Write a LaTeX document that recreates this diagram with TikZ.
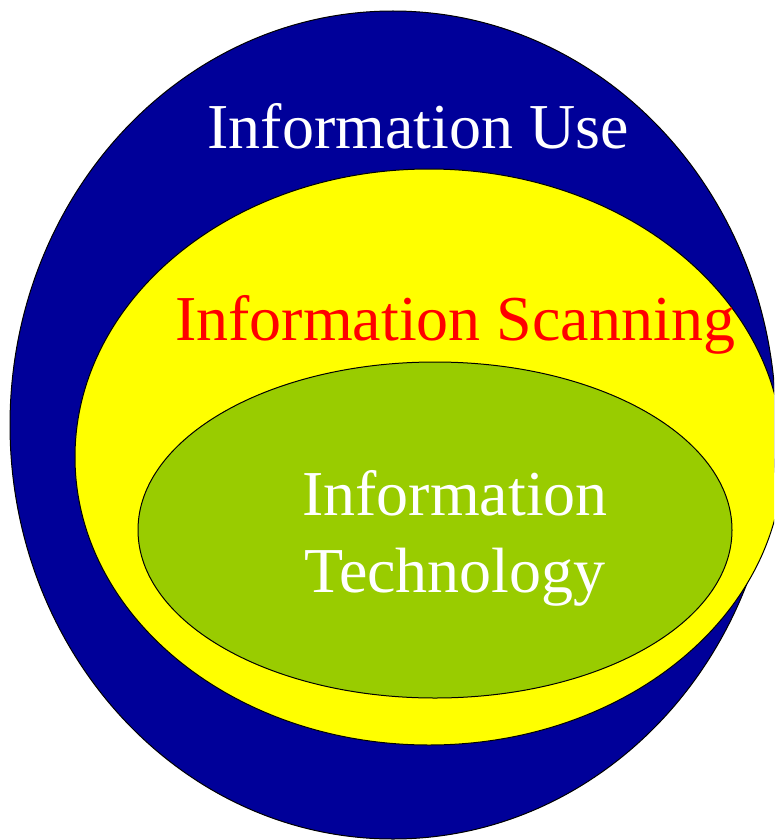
\documentclass[tikz,border=0pt]{standalone}
\usepackage{fontspec}
\setmainfont{Liberation Serif}
\definecolor{useblue}{RGB}{0,0,153}
\definecolor{scanyellow}{RGB}{255,255,0}
\definecolor{techgreen}{RGB}{153,204,0}
\tikzset{
	ring/.style={draw=black, line width=1pt},
	label/.style={font=\fontsize{64}{77}\selectfont, inner sep=0pt}
}

\begin{document}
\begin{tikzpicture}[x=1pt, y=-1pt]
	\useasboundingbox (0,0) rectangle (774,840);
	\clip (0,0) rectangle (774,840);
	\draw[ring, fill=useblue] (393,425) ellipse [x radius=383, y radius=414];
	\draw[ring, fill=scanyellow] (429,457) ellipse [x radius=354, y radius=288];
	\draw[ring, fill=techgreen] (435,530) ellipse [x radius=297, y radius=168];
	\node[label, white, anchor=base] (use) at (418,148) {Information Use};
	\node[label, red, anchor=base] (scan) at (455,340) {Information Scanning};
	\node[label, white, anchor=base, align=center] (tech) at (455,592) {Information\\Technology};
\end{tikzpicture}
\end{document}
